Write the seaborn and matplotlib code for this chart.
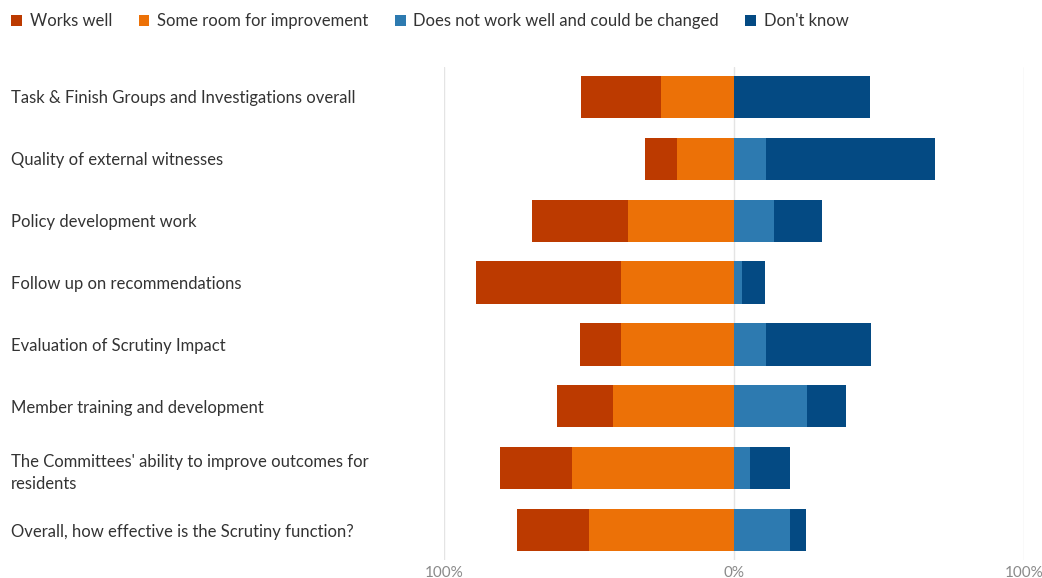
import matplotlib
matplotlib.use("Agg")
import matplotlib.pyplot as plt
from matplotlib.patches import Patch
import seaborn as sns
import pandas as pd

categories = [
    "Task & Finish Groups and Investigations overall",
    "Quality of external witnesses",
    "Policy development work",
    "Follow up on recommendations",
    "Evaluation of Scrutiny Impact",
    "Member training and development",
    "The Committees' ability to improve outcomes for\nresidents",
    "Overall, how effective is the Scrutiny function?",
]
works_well = [27.8, 10.8, 33.2, 49.8, 13.9, 19.6, 24.9, 24.8]
some_room = [25.1, 19.8, 36.4, 39.1, 39.1, 41.6, 55.7, 50.0]
not_well = [0.0, 11.2, 13.7, 2.6, 11.2, 25.0, 5.5, 19.3]
dont_know = [47.0, 58.0, 16.7, 8.2, 35.9, 13.6, 13.8, 5.6]
series_names = ["Works well", "Some room for improvement",
                "Does not work well and could be changed", "Don't know"]
tick_values = [-100, 0, 100]
tick_labels = ["100%", "0%", "100%"]

colors = ["#BC3A00", "#EC7107", "#2D7AB0", "#044A83"]

sns.set_theme(style="white")
plt.rcParams["font.family"] = ["Lato", "DejaVu Sans"]

df = pd.DataFrame({
    "cat": categories,
    "left_outer": [-(a + b) for a, b in zip(works_well, some_room)],
    "left_inner": [-b for b in some_room],
    "right_outer": [c + d for c, d in zip(not_well, dont_know)],
    "right_inner": not_well,
})

fig = plt.figure(figsize=(10.42, 5.78), dpi=100)
ax = fig.add_axes([444 / 1042, 1 - 560 / 578, 580 / 1042, (560 - 67) / 578])

w = 0.68
sns.barplot(data=df, y="cat", x="left_outer", color=colors[0], orient="h",
            width=w, ax=ax, saturation=1, linewidth=0)
sns.barplot(data=df, y="cat", x="left_inner", color=colors[1], orient="h",
            width=w, ax=ax, saturation=1, linewidth=0)
sns.barplot(data=df, y="cat", x="right_outer", color=colors[3], orient="h",
            width=w, ax=ax, saturation=1, linewidth=0)
sns.barplot(data=df, y="cat", x="right_inner", color=colors[2], orient="h",
            width=w, ax=ax, saturation=1, linewidth=0)

ax.set_xlim(-100, 100)
ax.set_ylim(len(categories) - 0.52, -0.48)
ax.set_xlabel("")
ax.set_ylabel("")
for s in ax.spines.values():
    s.set_visible(False)
for v in tick_values:
    ax.axvline(v, color="#E4E4E4", lw=1, zorder=0)
ax.set_xticks(tick_values)
ax.set_xticklabels(tick_labels, color="#8A8A8A", fontsize=11)
ax.tick_params(axis="x", length=0, pad=4)
ax.tick_params(axis="y", length=0, pad=433 * 72 / 100)
for lab in ax.get_yticklabels():
    lab.set_ha("left")
    lab.set_color("#333333")
    lab.set_fontsize(12)
    lab.set_linespacing(1.45)

handles = [Patch(facecolor=c, edgecolor="none") for c in colors]
fig.legend(handles, series_names, loc="upper left", bbox_to_anchor=(-0.002, 1.0),
           ncol=4, frameon=False, fontsize=12, handlelength=0.65,
           handleheight=0.65, handletextpad=0.45, columnspacing=1.6,
           labelcolor="#333333", borderaxespad=0.4)

fig.savefig("out.png", dpi=100, facecolor="white")
